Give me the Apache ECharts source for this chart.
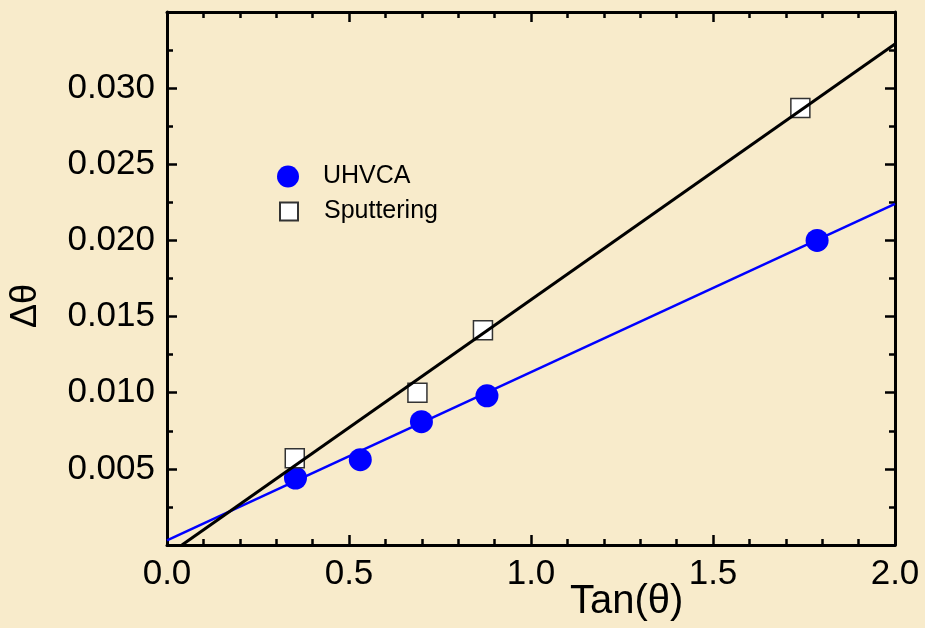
<!DOCTYPE html>
<html>
<head>
<meta charset="utf-8">
<script src="https://cdn.jsdelivr.net/npm/echarts@6/dist/echarts.min.js"></script>
<style>
html,body{margin:0;padding:0;background:#f8ebcb;}
#chart{width:925px;height:628px;}
</style>
</head>
<body>
<div id="chart"></div>
<script>
// Data
const uhvcaX = [0.353, 0.531, 0.699, 0.879, 1.786];
const uhvcaY = [0.0044, 0.0056, 0.0081, 0.0098, 0.0200];
const sputX = [0.351, 0.688, 0.868, 1.740];
const sputY = [0.0057, 0.0100, 0.0141, 0.0287];
// Fitted line endpoints
const uhvcaFitX = [0.0, 2.0];
const uhvcaFitY = [0.0003, 0.0224];
const sputFitX = [0.041, 2.0];
const sputFitY = [0.0, 0.0329];
// Tick labels
const xTickLabels = ['0.0', '0.5', '1.0', '1.5', '2.0'];
const yTickLabels = ['', '0.005', '0.010', '0.015', '0.020', '0.025', '0.030', ''];

const zip = (a, b) => a.map((v, i) => [v, b[i]]);
const FONT = '"Liberation Sans", Arial, sans-serif';

const tickStyle = {show: true, inside: true, length: 10, lineStyle: {color: '#000', width: 2.5}};
const minorStyle = (n) => ({show: true, splitNumber: n, length: 6, lineStyle: {color: '#000', width: 2.5}});
const lineStyle = {show: true, onZero: false, lineStyle: {color: '#000', width: 3}};

const chart = echarts.init(document.getElementById('chart'), null, {renderer: 'canvas'});
chart.setOption({
  backgroundColor: '#f8ebcb',
  animation: false,
  grid: {left: 167, right: 30, top: 12, bottom: 83, containLabel: false},
  xAxis: [{
    type: 'value', min: 0, max: 2, interval: 0.5, position: 'bottom',
    axisLine: lineStyle, axisTick: tickStyle, minorTick: minorStyle(5),
    splitLine: {show: false},
    axisLabel: {margin: 12, color: '#000', fontSize: 35, fontFamily: FONT,
      formatter: (v) => xTickLabels[Math.round(v / 0.5)] || ''}
  }, {
    type: 'value', min: 0, max: 2, interval: 0.5, position: 'top',
    axisLine: lineStyle, axisTick: tickStyle, minorTick: minorStyle(5),
    splitLine: {show: false}, axisLabel: {show: false}
  }],
  yAxis: [{
    type: 'value', min: 0, max: 0.035, interval: 0.005, position: 'left',
    axisLine: lineStyle, axisTick: tickStyle, minorTick: minorStyle(2),
    splitLine: {show: false},
    axisLabel: {margin: 12, color: '#000', fontSize: 35, fontFamily: FONT,
      formatter: (v) => yTickLabels[Math.round(v / 0.005)] || ''}
  }, {
    type: 'value', min: 0, max: 0.035, interval: 0.005, position: 'right',
    axisLine: lineStyle, axisTick: tickStyle, minorTick: minorStyle(2),
    splitLine: {show: false}, axisLabel: {show: false}
  }],
  legend: [{
    data: ['UHVCA'], orient: 'vertical', left: 272, top: 159,
    itemWidth: 22, itemHeight: 22, icon: 'circle',
    textStyle: {fontSize: 25, fontFamily: FONT, color: '#000', padding: [0, 0, 0, 19]}
  }, {
    data: ['Sputtering'], orient: 'vertical', left: 274, top: 194,
    itemWidth: 18, itemHeight: 18, icon: 'rect',
    textStyle: {fontSize: 25, fontFamily: FONT, color: '#000', padding: [0, 0, 0, 21]}
  }],
  series: [{
    name: 'UHVCA fit', type: 'line', data: zip(uhvcaFitX, uhvcaFitY),
    showSymbol: false, lineStyle: {color: '#0000ff', width: 2.5}, z: 2, silent: true
  }, {
    name: 'UHVCA', type: 'scatter', data: zip(uhvcaX, uhvcaY),
    symbol: 'circle', symbolSize: 23, itemStyle: {color: '#0000ff', opacity: 1}, z: 3
  }, {
    name: 'Sputtering', type: 'scatter', data: zip(sputX, sputY),
    symbol: 'rect', symbolSize: 19,
    itemStyle: {color: '#ffffff', borderColor: '#333333', borderWidth: 1.5, opacity: 1}, z: 4
  }, {
    name: 'Sputtering fit', type: 'line', data: zip(sputFitX, sputFitY),
    showSymbol: false, lineStyle: {color: '#000000', width: 3}, z: 5, silent: true
  }],
  graphic: [{
    type: 'text', left: 570, top: 582,
    style: {text: 'Tan(θ)', fontSize: 40, fontFamily: FONT, fill: '#000'}
  }, {
    type: 'text', x: 8, y: 328, rotation: Math.PI / 2,
    style: {text: 'Δθ', fontSize: 36, fontFamily: FONT, fill: '#000'}
  }]
});
</script>
</body>
</html>
